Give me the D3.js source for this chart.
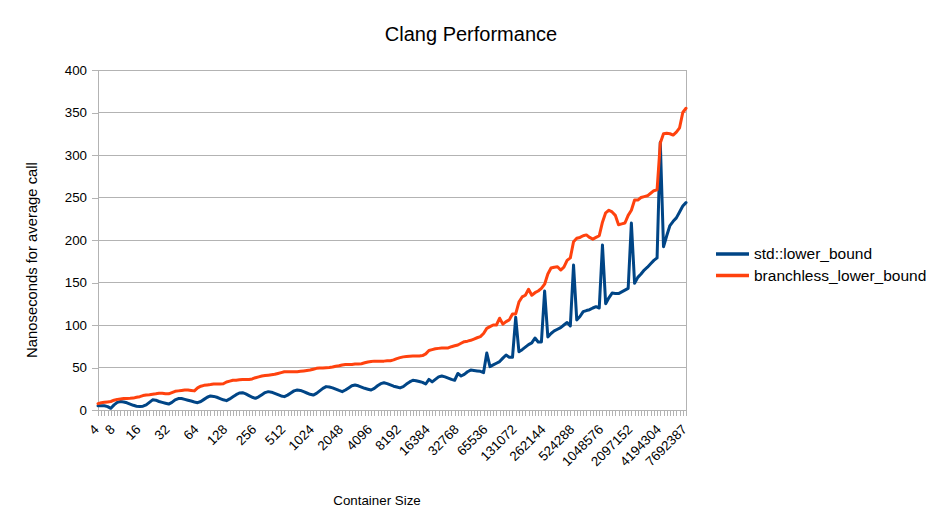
<!DOCTYPE html>
<html>
<head>
<meta charset="utf-8">
<script src="https://cdn.jsdelivr.net/npm/d3@7"></script>
<style>
  html, body { margin: 0; padding: 0; background: #ffffff; }
  svg { display: block; font-family: "Liberation Sans", Arial, sans-serif; }
</style>
</head>
<body>
<svg id="chart" width="943" height="530"></svg>
<script>
// ---- data ----
const tickLabels = ["4","8","16","32","64","128","256","512","1024","2048","4096","8192","16384","32768","65536","131072","262144","524288","1048576","2097152","4194304","7692387"];
const tickIndex  = [0,5,13,22,31,40,49,58,67,76,85,94,103,112,121,130,139,148,157,166,175,183];

const seriesNames = ["std::lower_bound", "branchless_lower_bound"];

const stdLowerBound = [
  5,5,5,4,2,6,9,10,9.5,8.5,
  7,5.5,4.5,4,4.5,6,9,12,11.5,10,
  9,8,7,9,12,13.5,13.5,12.5,11.5,10.5,
  9.5,8.6,10,12.5,15,16.5,16,15,13.5,12,
  11,13,15.5,18,20,20.4,19,17,15,13.7,
  15.5,18,20.5,21.6,21,19.5,18,16.5,15.7,17.5,
  20,22.5,23.5,23,21.5,20,18.5,17.6,19.5,22.5,
  25.5,27.5,27,26,24.5,23,21.6,23.5,26,28.5,
  29.4,28.5,27,25.5,24.5,23.5,25.5,28.5,31,32,
  31,29.5,28,27,26,27.5,30.5,33,35,34.5,
  33.5,32.5,30.6,36,33,36,39,40,39,37.5,
  36,35,43,40,42,45,47,46.5,46,45.5,
  44,67,51,53,55,57,61,64.7,62,62,
  109,68.6,71,74,77,79,84.7,80,80,140,
  86,90,93,95,97,100,103,99,170.6,106,
  110,115.7,117,118,120,121.6,120,194,125,132,
  137.6,137,137,139,141,143,220,149,156,160,
  164.7,168,172,176,179,315,192,205,217,222,
  226,233,240,244
];

const branchlessLowerBound = [
  7.5,8.5,9,9.5,10,11.5,12.5,13,13.5,13.5,
  13.7,14,15,15.7,17,17.6,18,18.5,19,19.6,
  19.6,19,19,20.5,22,22.5,23,23.5,23.5,23,
  22.5,26,28,29,29.5,30,30.6,30.6,30.6,30.8,
  33,34,35,35,35.5,36,36,36,36.5,38,
  39,40,40.5,41,41.5,42,43,44,45,45,
  45,45,45,45.5,46,46.5,47,48,49,49.5,
  49.5,49.8,50,50.5,51.5,52,53,53.5,53.5,53.5,
  54,54,54.5,55.5,56.5,57,57.5,57.5,57.5,57.5,
  57.8,58,59,60.5,61.6,62.5,63,63.3,63.5,63.5,
  63.5,64,66,70,71,72,72.5,73,73,73,
  74.5,75.5,76.5,78.5,80.4,81,82,83.5,85,86.3,
  90,96,98,100,100,108,101,104,106,113,
  113,127,133,135,142,135,138,140,143,148,
  160,167,168,168.6,164.7,168,176,179,198,202,
  203,205,206,203,201,203,205,221,232,235,
  233,229,218,219,220,229,235,247,247,250,
  251,252,255,258,259,314,325,325.5,325,323.5,
  327,332,350,355
];

const yTicks = [0,50,100,150,200,250,300,350,400];
const colors = ["#004586", "#ff420e"];

// ---- layout ----
const svg = d3.select("#chart");
const plotL = 98, plotR = 686, plotT = 70, plotB = 410;
const N = stdLowerBound.length;
const labelMap = new Map(tickIndex.map((d, i) => [d, tickLabels[i]]));

const x = d3.scalePoint().domain(d3.range(N)).range([plotL, plotR]);
const y = d3.scaleLinear().domain([0, 400]).range([plotB, plotT]);

const grid = "#b3b3b3";

// gridlines
svg.append("g").selectAll("line").data(yTicks).join("line")
  .attr("x1", plotL).attr("x2", plotR)
  .attr("y1", d => y(d)).attr("y2", d => y(d))
  .attr("stroke", grid).attr("stroke-width", 1)
  .attr("shape-rendering", "crispEdges");

// right frame line
svg.append("line").attr("x1", plotR).attr("x2", plotR).attr("y1", plotT).attr("y2", plotB)
  .attr("stroke", grid).attr("shape-rendering", "crispEdges");

// y axis
const yAxis = svg.append("g").attr("transform", `translate(${plotL},0)`)
  .call(d3.axisLeft(y).tickValues(yTicks).tickSize(6).tickSizeOuter(0).tickPadding(5));
yAxis.select(".domain").attr("stroke", grid).attr("shape-rendering", "crispEdges");
yAxis.selectAll(".tick line").attr("stroke", grid).attr("shape-rendering", "crispEdges");
yAxis.selectAll(".tick text").attr("font-size", "13.33px").attr("fill", "#000")
  .attr("font-family", "Liberation Sans, Arial, sans-serif");

// x axis
const xAxis = svg.append("g").attr("transform", `translate(0,${plotB})`)
  .call(d3.axisBottom(x).tickValues(d3.range(N)).tickSize(6).tickSizeOuter(0)
    .tickFormat(i => labelMap.get(i) || ""));
xAxis.select(".domain").attr("stroke", grid).attr("shape-rendering", "crispEdges");
xAxis.selectAll(".tick line").attr("stroke", grid).attr("shape-rendering", "crispEdges");
xAxis.selectAll(".tick text")
  .attr("font-size", "13.33px").attr("fill", "#000")
  .attr("font-family", "Liberation Sans, Arial, sans-serif")
  .attr("text-anchor", "end")
  .attr("y", 0).attr("dy", "0.35em")
  .attr("transform", "translate(-2,17) rotate(-45)");

// lines
const line = d3.line().x((d, i) => x(i)).y(d => y(d));
[stdLowerBound, branchlessLowerBound].forEach((s, k) => {
  svg.append("path").datum(s)
    .attr("d", line)
    .attr("fill", "none")
    .attr("stroke", colors[k])
    .attr("stroke-width", 3)
    .attr("stroke-linejoin", "round")
    .attr("stroke-linecap", "round");
});

// title
svg.append("text").attr("x", 471).attr("y", 41)
  .attr("text-anchor", "middle").attr("font-size", "20px").attr("fill", "#000")
  .text("Clang Performance");

// axis titles
svg.append("text").attr("transform", "translate(37,260) rotate(-90)")
  .attr("text-anchor", "middle").attr("font-size", "14.8px").attr("fill", "#000")
  .text("Nanoseconds for average call");
svg.append("text").attr("x", 377).attr("y", 505)
  .attr("text-anchor", "middle").attr("font-size", "13.33px").attr("fill", "#000")
  .text("Container Size");

// legend
const lg = svg.append("g");
seriesNames.forEach((name, k) => {
  const yy = 254 + k * 21.5;
  lg.append("line").attr("x1", 716).attr("x2", 749).attr("y1", yy).attr("y2", yy)
    .attr("stroke", colors[k]).attr("stroke-width", 3.5);
  lg.append("text").attr("x", 754).attr("y", yy).attr("dy", "0.35em")
    .attr("font-size", "15.5px").attr("fill", "#000").text(name);
});
</script>
</body>
</html>
